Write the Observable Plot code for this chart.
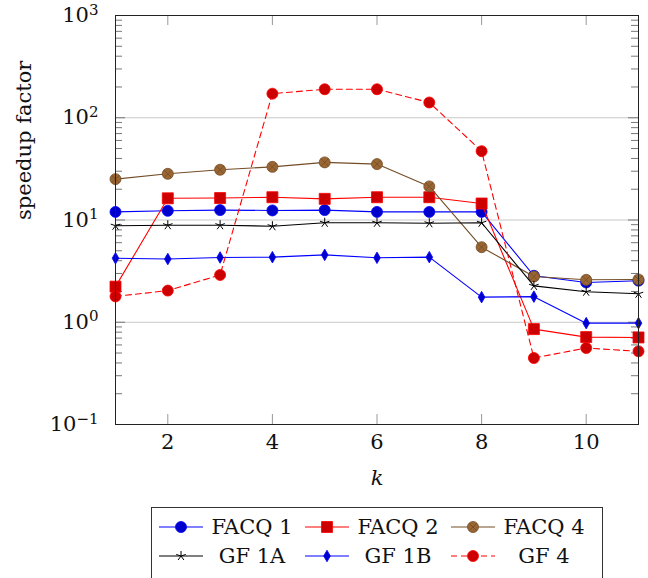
<!DOCTYPE html>
<html><head><meta charset="utf-8">
<script src="https://cdn.jsdelivr.net/npm/d3@7"></script>
<script src="https://cdn.jsdelivr.net/npm/@observablehq/plot@0.6"></script>
<style>
body{margin:0;background:#fff;font-family:"DejaVu Serif","Liberation Serif",serif;}
#wrap{position:relative;width:648px;height:578px;overflow:hidden;}
#legend{position:absolute;left:151px;top:507px;width:452px;height:80px;border:1px solid #333;box-sizing:border-box;padding:4px 0 0 7px;font-size:21px;color:#111;}
.row{display:flex;height:29px;align-items:center}
.cell{display:flex;align-items:center;width:146px}
.cell svg{flex:none}
.cell span{width:92px;text-align:center;margin-left:3px;white-space:nowrap}
</style></head><body><div id="wrap"><div id="chart"></div><div id="legend"></div></div>
<script>
// ---- data ----
const k = [1, 2, 3, 4, 5, 6, 7, 8, 9, 10, 11];
const facq1 = [12.0, 12.3, 12.5, 12.4, 12.5, 12.0, 12.0, 12.0, 2.85, 2.45, 2.55];
const facq2 = [2.23, 16.3, 16.4, 16.7, 16.1, 16.7, 16.7, 14.5, 0.857, 0.716, 0.71];
const facq4 = [25.1, 28.3, 31.0, 33.1, 36.6, 35.2, 21.3, 5.42, 2.8, 2.6, 2.62];
const gf1a = [8.8, 8.9, 8.9, 8.7, 9.4, 9.4, 9.3, 9.4, 2.27, 1.99, 1.90];
const gf1b = [4.23, 4.15, 4.3, 4.33, 4.56, 4.27, 4.33, 1.76, 1.78, 0.98, 0.98];
const gf4 = [1.79, 2.04, 2.9, 172, 190, 190, 141, 47.1, 0.447, 0.56, 0.52];
const seriesNames = ["FACQ 1", "FACQ 2", "FACQ 4", "GF 1A", "GF 1B", "GF 4"];
const xTicks = [2, 4, 6, 8, 10];
const yMajor = [0.1, 1, 10, 100, 1000];
const yMinor = [];
for (const dec of [0.1, 1, 10, 100]) for (let m = 2; m <= 9; m++) yMinor.push(+(dec * m).toPrecision(3));

// ---- custom marker shapes ----
const star5 = {draw(ctx, size) {
  const r = Math.sqrt(size / Math.PI);
  for (let i = 0; i < 5; i++) {
    const a = -Math.PI / 2 + i * 2 * Math.PI / 5;
    ctx.moveTo(0, 0); ctx.lineTo(r * Math.cos(a), r * Math.sin(a));
  }
}};
const otimes = {draw(ctx, size) {
  const r = Math.sqrt(size / Math.PI), d = r * Math.SQRT1_2;
  ctx.moveTo(r, 0); ctx.arc(0, 0, r, 0, 2 * Math.PI); ctx.closePath();
  ctx.moveTo(-d, -d); ctx.lineTo(d, d); ctx.moveTo(-d, d); ctx.lineTo(d, -d);
}};

const values = [facq1, facq2, facq4, gf1a, gf1b, gf4];
const styles = [
  {stroke: "#0000ff", fill: "#0000cc", symbol: d3.symbolCircle, r: 5.5},
  {stroke: "#ff0000", fill: "#cc0000", symbol: d3.symbolSquare, r: 6.2},
  {stroke: "#734d26", fill: "#996633", symbol: otimes, r: 5.5},
  {stroke: "#000000", fill: "none", symbol: star5, r: 5},
  {stroke: "#0000ff", fill: "#0000cc", symbol: d3.symbolDiamond, r: 3.5},
  {stroke: "#ff0000", fill: "#cc0000", symbol: d3.symbolCircle, r: 5.5, dash: "6,4"}
];
const tables = values.map((vals, i) => k.map((kk, j) => ({k: kk, v: vals[j], s: seriesNames[i]})));

const W = 648, H = 500, ML = 115, MR = 10, MT = 15, MB = 76;
const pw = W - ML - MR, ph = H - MT - MB;

const seriesMarks = [];
tables.forEach((t, i) => {
  const st = styles[i];
  seriesMarks.push(Plot.line(t, {x: "k", y: "v", stroke: st.stroke, strokeWidth: 1.1, strokeDasharray: st.dash || null}));
  seriesMarks.push(Plot.dot(t, {x: "k", y: "v", symbol: st.symbol, r: st.r, fill: st.fill, stroke: st.stroke, strokeWidth: st.fill === "none" ? 1 : 0.8}));
});

const chart = Plot.plot({
  width: W, height: H, marginLeft: ML, marginRight: MR, marginTop: MT, marginBottom: MB,
  style: {fontFamily: '"DejaVu Serif", "Liberation Serif", serif', fontSize: "21px", background: "white", color: "#111"},
  x: {domain: [1, 11]},
  y: {type: "log", domain: [0.1, 1000]},
  marks: [
    Plot.gridY(yMajor, {stroke: "#c8c8c8", strokeOpacity: 1}),
    Plot.tickY(yMinor, {y: d => d, insetRight: pw - 7, stroke: "#777"}),
    Plot.tickY(yMinor, {y: d => d, insetLeft: pw - 7, stroke: "#777"}),
    Plot.tickY(yMajor, {y: d => d, insetRight: pw - 10, stroke: "#777"}),
    Plot.tickY(yMajor, {y: d => d, insetLeft: pw - 10, stroke: "#777"}),
    Plot.tickX(xTicks, {x: d => d, insetTop: ph - 10, stroke: "#999"}),
    Plot.tickX(xTicks, {x: d => d, insetBottom: ph - 10, stroke: "#999"}),
    Plot.axisY(yMajor, {tickSize: 0, tickPadding: 17, label: null,
      tickFormat: d => "10^" + String(Math.round(Math.log10(d))).replace("-", "\u2212")}),
    Plot.axisX(xTicks, {tickSize: 0, tickPadding: 10, label: null}),
    Plot.text(["k"], {frameAnchor: "bottom", dy: 60, fontStyle: "italic", text: d => d}),
    Plot.text(["speedup factor"], {frameAnchor: "left", rotate: -90, dx: -91, text: d => d}),
    ...seriesMarks,
    Plot.frame({stroke: "#222"})
  ]
});
document.getElementById("chart").append(chart);

// superscript exponents on y tick labels
d3.select(chart).selectAll('g[aria-label="y-axis tick label"] text').each(function() {
  const [b, e] = this.textContent.split("^");
  this.textContent = b;
  d3.select(this).append("tspan").attr("dy", "-0.5em").attr("font-size", "15px").text(e);
});

// legend
const legend = d3.select("#legend");
const rows = [[0, 1, 2], [3, 4, 5]];
rows.forEach(r => {
  const row = legend.append("div").attr("class", "row");
  r.forEach(i => {
    const st = styles[i];
    const cell = row.append("div").attr("class", "cell");
    const svg = cell.append("svg").attr("width", 44).attr("height", 20);
    svg.append("line").attr("x1", 0).attr("x2", 44).attr("y1", 10).attr("y2", 10)
      .attr("stroke", st.stroke).attr("stroke-width", 1.1).attr("stroke-dasharray", st.dash || null);
    svg.append("path").attr("transform", "translate(22,10)")
      .attr("d", d3.symbol(st.symbol, st.r * st.r * Math.PI)())
      .attr("fill", st.fill).attr("stroke", st.stroke).attr("stroke-width", st.fill === "none" ? 1 : 0.8);
    cell.append("span").text(seriesNames[i]);
  });
});
</script></body></html>
